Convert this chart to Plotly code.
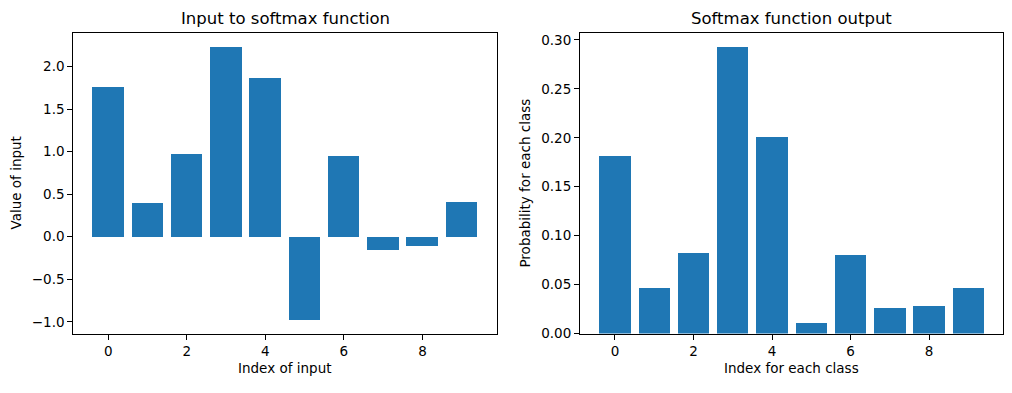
import plotly.graph_objects as go

# Data
indices = list(range(10))
input_values = [1.764, 0.400, 0.979, 2.241, 1.868, -0.977, 0.950, -0.151, -0.103, 0.411]
softmax_values = [0.1818, 0.0465, 0.0829, 0.2929, 0.2017, 0.0117, 0.0806, 0.0268, 0.0281, 0.0470]
x_ticks = [0, 2, 4, 6, 8]
left_y_ticks = [-1.0, -0.5, 0.0, 0.5, 1.0, 1.5, 2.0]
right_y_ticks = [0.00, 0.05, 0.10, 0.15, 0.20, 0.25, 0.30]

W, H = 1012, 393
BLUE = "#1f77b4"
FONT = "DejaVu Sans"

fig = go.Figure()
fig.add_trace(go.Bar(x=indices, y=input_values, width=0.8, marker=dict(color=BLUE, line=dict(width=0)),
                     xaxis="x", yaxis="y", showlegend=False))
fig.add_trace(go.Bar(x=indices, y=softmax_values, width=0.8, marker=dict(color=BLUE, line=dict(width=0)),
                     xaxis="x2", yaxis="y2", showlegend=False))

def px_x(p):
    return p / W

def px_y(p):
    return (H - p) / H

axis_common = dict(showgrid=False, zeroline=False, showline=True, linecolor="black", linewidth=1,
                   mirror=True, ticks="outside", ticklen=5, tickwidth=1, tickcolor="black",
                   tickfont=dict(family=FONT, size=13.5, color="black"))

ydom = [px_y(340.3), px_y(32.3)]
fig.update_layout(
    autosize=True,
    margin=dict(l=0, r=0, t=0, b=0),
    paper_bgcolor="white", plot_bgcolor="white",
    bargap=0,
    xaxis=dict(domain=[px_x(73.3), px_x(496.7)], range=[-0.89, 9.89], tickvals=x_ticks,
               anchor="y", **axis_common),
    yaxis=dict(domain=ydom, range=[-1.138, 2.402], tickvals=left_y_ticks, tickformat=".1f",
               anchor="x", **axis_common),
    xaxis2=dict(domain=[px_x(580), px_x(1003.3)], range=[-0.89, 9.89], tickvals=x_ticks,
                anchor="y2", **axis_common),
    yaxis2=dict(domain=ydom, range=[0, 0.3075], tickvals=right_y_ticks, tickformat=".2f",
                anchor="x2", **axis_common),
)

def ann(text, x, y, size, angle=0):
    fig.add_annotation(text=text, x=x, y=y, xref="paper", yref="paper", showarrow=False,
                       xanchor="center", yanchor="middle", textangle=angle,
                       font=dict(family=FONT, size=size, color="black"))

ann("Input to softmax function", px_x((73.3 + 496.7) / 2), px_y(17.5), 16.5)
ann("Softmax function output", px_x((580 + 1003.3) / 2), px_y(17.5), 16.5)
ann("Index of input", px_x((73.3 + 496.7) / 2), px_y(376), 13.5)
ann("Index for each class", px_x((580 + 1003.3) / 2), px_y(376), 13.5)
ann("Value of input", px_x(16.5), px_y(186.3), 13.5, -90)
ann("Probability for each class", px_x(525.5), px_y(186.3), 13.5, -90)

post = (
    "var s=document.createElement('style');"
    "s.textContent='html,body{margin:0;padding:0;overflow:hidden;}';"
    "document.head.appendChild(s);"
    "window.dispatchEvent(new Event('resize'));"
)
fig.write_html("out.html", config={"displayModeBar": False, "responsive": True},
               default_width="100vw", default_height="100vh", post_script=post)
